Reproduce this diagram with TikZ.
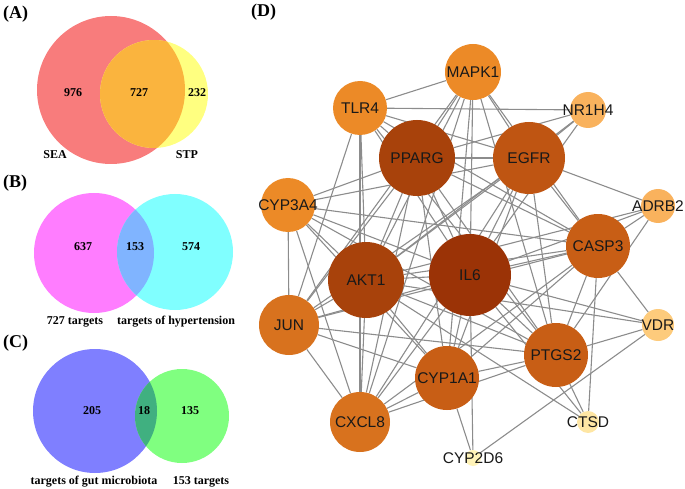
\documentclass[tikz,border=0pt]{standalone}
\usepackage{fontspec}
\setmainfont{Liberation Serif}
\newfontfamily\netfont{Liberation Sans}
\pgfdeclarelayer{bg}
\pgfsetlayers{bg,main}
\definecolor{vred}{HTML}{F87C7C}
\definecolor{vyel}{HTML}{FFFF80}
\definecolor{vora}{HTML}{FAB43E}
\definecolor{vmag}{HTML}{FF7DFF}
\definecolor{vcya}{HTML}{80FFFF}
\definecolor{vlbl}{HTML}{80B4FF}
\definecolor{vblu}{HTML}{7F7FFF}
\definecolor{vgrn}{HTML}{80FF80}
\definecolor{vdgr}{HTML}{40B080}
\definecolor{cA}{HTML}{9B3306}
\definecolor{cB}{HTML}{A8420B}
\definecolor{cC}{HTML}{BF5512}
\definecolor{cD}{HTML}{C85E15}
\definecolor{cE}{HTML}{D8721E}
\definecolor{cF}{HTML}{EC8A27}
\definecolor{cG}{HTML}{F9B25D}
\definecolor{cH}{HTML}{FDCB7C}
\definecolor{cI}{HTML}{FEE6A4}
\definecolor{cJ}{HTML}{FFF3B8}
\definecolor{edgec}{HTML}{8C8C8C}
\begin{document}
\begin{tikzpicture}[x=1pt,y=-1pt,
  gn/.style={circle,draw=none,inner sep=0pt},
  nl/.style={font=\netfont\fontsize{15.5}{16}\selectfont,text=black!90,inner sep=0pt},
  edge/.style={draw=edgec,line width=1.1pt},
  vnum/.style={font=\bfseries\fontsize{12}{14}\selectfont,inner sep=0pt},
  plab/.style={font=\bfseries\fontsize{18}{20}\selectfont,inner sep=0pt,anchor=west}]
\useasboundingbox (0,0) rectangle (685,489);
% ---------- Venn A ----------
\node[plab] (labA) at (3,14) {(A)};
\fill[vred] (111,90) circle (74);
\fill[vyel] (154,94) circle (54);
\begin{scope}
\clip (111,90) circle (74);
\fill[vora] (154,94) circle (54);
\end{scope}
\node[vnum] (a1) at (73,93) {976};
\node[vnum] (a2) at (139,93) {727};
\node[vnum] (a3) at (197,93) {232};
\node[vnum] (a4) at (55,155) {SEA};
\node[vnum] (a5) at (187,155) {STP};
% ---------- Venn B ----------
\node[plab] (labB) at (3,183) {(B)};
\fill[vmag] (94,253) circle (60);
\fill[vcya] (175,252) circle (58);
\begin{scope}
\clip (94,253) circle (60);
\fill[vlbl] (175,252) circle (58);
\end{scope}
\node[vnum] (b1) at (83,247) {637};
\node[vnum] (b2) at (135,247) {153};
\node[vnum] (b3) at (191,247) {574};
\node[vnum] (b4) at (75,322) {727 targets};
\node[vnum] (b5) at (176,322) {targets of hypertension};
% ---------- Venn C ----------
\node[plab] (labC) at (3,343) {(C)};
\fill[vblu] (95,411) circle (62);
\fill[vgrn] (182,416) circle (47);
\begin{scope}
\clip (95,411) circle (62);
\fill[vdgr] (182,416) circle (47);
\end{scope}
\node[vnum] (c1) at (92,411) {205};
\node[vnum] (c2) at (144,411) {18};
\node[vnum] (c3) at (190,411) {135};
\node[vnum] (c4) at (94,482) {targets of gut microbiota};
\node[vnum] (c5) at (201,482) {153 targets};
% ---------- Network D ----------
\node[plab] (labD) at (251,12) {(D)};
\foreach \n/\x/\y/\r/\c in {
  MAPK1/473/72/28/cF, TLR4/360/108/27/cF, NR1H4/588/110/18/cG,
  PPARG/417/158/38/cB, EGFR/529/158/36/cC, CYP3A4/288/205/27/cF,
  ADRB2/658/206/17/cG, CASP3/598/246/32/cD, AKT1/366/280/38/cB,
  IL6/470/275/41/cA, JUN/289/325/30/cE, VDR/658/325/16/cH,
  PTGS2/556/355/32/cD, CYP1A1/447/378/32/cD, CXCL8/360/422/30/cE,
  CTSD/588/422/11/cI, CYP2D6/473/458/8/cJ}{
  \node[gn,minimum size=2*\r,fill=\c] (\n) at (\x,\y) {};
  \node[nl] (\n-t) at (\n) {\n};
}
\begin{pgfonlayer}{bg}
\foreach \a/\b in {
  IL6/MAPK1, IL6/TLR4, IL6/NR1H4, IL6/PPARG, IL6/EGFR, IL6/CYP3A4, IL6/ADRB2,
  IL6/CASP3, IL6/AKT1, IL6/JUN, IL6/VDR, IL6/PTGS2, IL6/CYP1A1, IL6/CXCL8,
  IL6/CTSD, IL6/CYP2D6,
  AKT1/MAPK1, AKT1/TLR4, AKT1/NR1H4, AKT1/PPARG, AKT1/EGFR, AKT1/CYP3A4,
  AKT1/ADRB2, AKT1/CASP3, AKT1/JUN, AKT1/VDR, AKT1/PTGS2, AKT1/CYP1A1,
  AKT1/CXCL8, AKT1/CTSD,
  PPARG/MAPK1, PPARG/TLR4, PPARG/NR1H4, PPARG/EGFR, PPARG/CYP3A4, PPARG/CASP3,
  PPARG/JUN, PPARG/PTGS2, PPARG/CYP1A1, PPARG/CXCL8,
  EGFR/MAPK1, EGFR/TLR4, EGFR/NR1H4, EGFR/CYP3A4, EGFR/ADRB2, EGFR/CASP3,
  EGFR/JUN, EGFR/PTGS2, EGFR/CYP1A1, EGFR/CXCL8,
  CASP3/MAPK1, CASP3/TLR4, CASP3/CYP3A4, CASP3/ADRB2, CASP3/JUN, CASP3/VDR,
  CASP3/PTGS2, CASP3/CYP1A1, CASP3/CXCL8, CASP3/CTSD,
  PTGS2/MAPK1, PTGS2/TLR4, PTGS2/CYP3A4, PTGS2/JUN, PTGS2/VDR, PTGS2/CYP1A1,
  PTGS2/CXCL8, PTGS2/CTSD, PTGS2/ADRB2,
  CYP1A1/MAPK1, CYP1A1/CYP3A4, CYP1A1/JUN, CYP1A1/CXCL8, CYP1A1/CYP2D6,
  JUN/MAPK1, JUN/TLR4, JUN/CYP3A4, JUN/CXCL8,
  CXCL8/TLR4, CXCL8/CYP3A4, CXCL8/MAPK1,
  TLR4/MAPK1, TLR4/NR1H4, CYP2D6/VDR}{
  \draw[edge] (\a) -- (\b);
}
\end{pgfonlayer}
\end{tikzpicture}
\end{document}
